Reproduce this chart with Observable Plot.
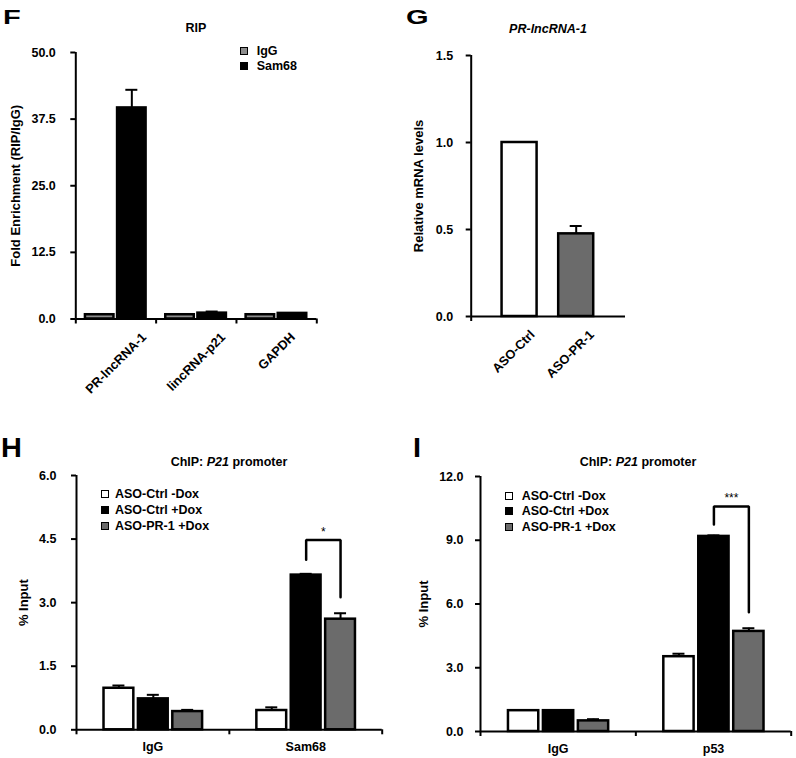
<!DOCTYPE html>
<html><head><meta charset="utf-8">
<script src="https://cdn.jsdelivr.net/npm/d3@7"></script>
<script src="https://cdn.jsdelivr.net/npm/@observablehq/plot@0.6"></script>
<style>
body{margin:0;background:#fff;}
#fig{position:relative;width:796px;height:758px;background:#fff;font-family:'Liberation Sans',Arial,Helvetica,sans-serif;font-weight:bold;color:#000;overflow:hidden}
.plot{position:absolute}
.letter{position:absolute;font-weight:bold;line-height:1;transform-origin:0 0;white-space:nowrap}
.title{position:absolute;transform:translate(-50%,-50%);font-size:12.5px;white-space:nowrap;line-height:1}
.row{position:absolute;display:flex;align-items:center;height:16px;font-size:12.5px;white-space:nowrap}
.sw{display:inline-block;width:8px;height:8px;border:1.5px solid #000;box-sizing:border-box}
</style></head><body><div id="fig"></div><script>
// ---------- data ----------
// F: RIP
const fGroups = ["PR-lncRNA-1", "lincRNA-p21", "GAPDH"];
const fSeries = ["IgG", "Sam68"];
const fIgG = [0.8, 0.8, 0.8];
const fSam68 = [39.6, 1.1, 1.05];
const fIgGErr = [0, 0, 0];
const fSam68Err = [3.4, 0.3, 0.05];
const fYTicks = [0, 12.5, 25, 37.5, 50];

// G: PR-lncRNA-1 levels
const gCats = ["ASO-Ctrl", "ASO-PR-1"];
const gValues = [1.0, 0.475];
const gErr = [0, 0.045];
const gYTicks = [0, 0.5, 1.0, 1.5];

// H: ChIP Sam68
const hGroups = ["IgG", "Sam68"];
const hSeries = ["ASO-Ctrl -Dox", "ASO-Ctrl +Dox", "ASO-PR-1 +Dox"];
const hCtrlNoDox = [0.98, 0.455];
const hCtrlDox = [0.73, 3.65];
const hPR1Dox = [0.43, 2.61];
const hCtrlNoDoxErr = [0.065, 0.075];
const hCtrlDoxErr = [0.095, 0.03];
const hPR1DoxErr = [0.04, 0.14];
const hYTicks = [0, 1.5, 3.0, 4.5, 6.0];
const hSig = {group: 1, from: 1, to: 2, top: 4.48, left: 4.01, right: 3.13, label: "*"};

// I: ChIP p53
const iGroups = ["IgG", "p53"];
const iSeries = ["ASO-Ctrl -Dox", "ASO-Ctrl +Dox", "ASO-PR-1 +Dox"];
const iCtrlNoDox = [0.98, 3.52];
const iCtrlDox = [0.98, 9.18];
const iPR1Dox = [0.50, 4.71];
const iCtrlNoDoxErr = [0, 0.14];
const iCtrlDoxErr = [0, 0.05];
const iPR1DoxErr = [0.08, 0.15];
const iYTicks = [0, 3.0, 6.0, 9.0, 12.0];
const iSig = {group: 1, from: 1, to: 2, top: 10.59, left: 9.74, right: 5.61, label: "***"};

// ---------- styling ----------
const FONT = "'Liberation Sans', Arial, Helvetica, sans-serif";
const WHITE = "#ffffff", BLACK = "#000000", GRAY = "#6b6b6b", LIGHTGRAY = "#8c8c8c";
const ROT_FS = 12.8;
const fig = document.getElementById("fig");

const ctx = document.createElement("canvas").getContext("2d");
ctx.font = `bold ${ROT_FS}px ${FONT}`;
const textW = s => ctx.measureText(s).width;

function panel(cfg) {
  const {groups, series, values, errors, fills, layout, yDomain, yTicks, yLabel, labelOffset,
         width, height, margin, nUnits, tickPadding, sig} = cfg;
  const pxPerUnit = (width - margin.left - margin.right) / nUnits;
  const capHalf = 6 / pxPerUnit;
  const rows = [];
  groups.forEach((g, i) => series.forEach((s, j) =>
    rows.push({group: g, series: s, i, j, value: values[j][i], err: errors[j][i]})));
  const x1 = d => d.i + layout.pad + d.j * (layout.bw + layout.gap);
  const x2 = d => x1(d) + layout.bw;
  const xc = d => x1(d) + layout.bw / 2;
  const marks = [];
  const withErr = rows.filter(d => d.err > 0);
  marks.push(Plot.ruleX(withErr, {x: xc, y1: "value", y2: d => d.value + d.err, stroke: BLACK, strokeWidth: 2}));
  marks.push(Plot.ruleY(withErr, {y: d => d.value + d.err, x1: d => xc(d) - capHalf, x2: d => xc(d) + capHalf, stroke: BLACK, strokeWidth: 2}));
  series.forEach((s, j) => marks.push(Plot.rectY(rows.filter(d => d.j === j),
    {x1, x2, y: "value", fill: fills[j], stroke: BLACK, strokeWidth: 2.5})));
  // axes
  marks.push(Plot.ruleY([yDomain[0]], {stroke: BLACK, strokeWidth: 2}));
  marks.push(Plot.ruleX([0], {y1: yDomain[0], y2: yDomain[1], stroke: BLACK, strokeWidth: 2}));
  marks.push(Plot.axisY({ticks: yTicks, tickFormat: d3.format(".1f"), tickSize: 5, tickPadding,
    strokeWidth: 2, label: null}));
  marks.push(Plot.text([yLabel], {frameAnchor: "left", rotate: -90, textAnchor: "middle", lineAnchor: "top",
    dx: -labelOffset, fontSize: 13, text: d => d}));
  marks.push(Plot.axisX({ticks: cfg.xTicks, tickSize: 5, tickFormat: () => "", strokeWidth: 2, label: null}));
  // category labels
  if (cfg.labelMode === "rotated") {
    cfg.labels.forEach((lab) => {
      marks.push(Plot.text([lab], {x: lab.x, y: () => yDomain[0], text: () => lab.text,
        rotate: -45, textAnchor: "end", lineAnchor: "middle", fontSize: ROT_FS,
        dx: textW(lab.text) / (2 * Math.SQRT2) + cfg.labelShift, dy: cfg.labelDy}));
    });
  } else {
    marks.push(Plot.text(groups, {x: (d, i) => i + 0.5, y: () => yDomain[0], text: d => d, dy: 17}));
  }
  // significance bracket
  if (sig) {
    const r = j => rows.find(d => d.i === sig.group && d.j === j);
    const xa = xc(r(sig.from)), xb = xc(r(sig.to));
    const pts = [{x: xa, y: sig.left}, {x: xa, y: sig.top}, {x: xb, y: sig.top}, {x: xb, y: sig.right}];
    marks.push(Plot.line(pts, {x: "x", y: "y", stroke: BLACK, strokeWidth: 2.5, strokeLinejoin: "miter"}));
    marks.push(Plot.text([sig], {x: () => (xa + xb) / 2, y: "top", text: "label", dy: -8, fontSize: 12, fontWeight: "normal"}));
  }
  const svg = Plot.plot({
    width, height,
    marginLeft: margin.left, marginRight: margin.right, marginTop: margin.top, marginBottom: margin.bottom,
    x: {domain: [0, nUnits]},
    y: {domain: yDomain},
    style: {fontFamily: FONT, fontSize: "12.5px", fontWeight: "bold", color: BLACK, background: "transparent", overflow: "visible"},
    marks
  });
  svg.classList.add("plot");
  svg.style.left = cfg.left + "px";
  svg.style.top = cfg.top + "px";
  fig.appendChild(svg);
}

// F
const fLayout = {pad: 0.12, bw: 0.355, gap: 0.045};
panel({
  left: 0, top: 0, width: 400, height: 380,
  margin: {left: 75.3, right: 83.7, top: 52, bottom: 61.5},
  groups: fGroups, series: fSeries, values: [fIgG, fSam68], errors: [fIgGErr, fSam68Err],
  fills: [LIGHTGRAY, BLACK], layout: fLayout, nUnits: fGroups.length,
  yDomain: [0, 50], yTicks: fYTicks, yLabel: "Fold Enrichment (RIP/IgG)", labelOffset: 64.8, tickPadding: 15,
  xTicks: d3.range(fGroups.length + 1),
  labelMode: "rotated", labelShift: 0, labelDy: 16,
  labels: fGroups.map((t, i) => ({text: t, x: () => i + 0.5}))
});

// G
const gLayout = {pad: 0.2, bw: 0.227, gap: 0.14};
panel({
  left: 400, top: 0, width: 396, height: 380,
  margin: {left: 70.7, right: 171, top: 55, bottom: 64},
  groups: [""], series: gCats, values: gValues.map(v => [v]), errors: gErr.map(v => [v]),
  fills: [WHITE, GRAY], layout: gLayout, nUnits: 1,
  yDomain: [0, 1.5], yTicks: gYTicks, yLabel: "Relative mRNA levels", labelOffset: 57.5, tickPadding: 13,
  xTicks: [0],
  labelMode: "rotated", labelShift: -6, labelDy: 16,
  labels: gCats.map((t, j) => ({text: t, x: () => gLayout.pad + j * (gLayout.bw + gLayout.gap) + gLayout.bw / 2}))
});

// H
const hiLayout = {pad: 0.18, bw: 0.195, gap: 0.03};
panel({
  left: 0, top: 400, width: 400, height: 358,
  margin: {left: 76, right: 18.3, top: 75, bottom: 28.7},
  groups: hGroups, series: hSeries, values: [hCtrlNoDox, hCtrlDox, hPR1Dox],
  errors: [hCtrlNoDoxErr, hCtrlDoxErr, hPR1DoxErr],
  fills: [WHITE, BLACK, GRAY], layout: hiLayout, nUnits: hGroups.length,
  yDomain: [0, 6], yTicks: hYTicks, yLabel: "% Input", labelOffset: 58, tickPadding: 15,
  xTicks: d3.range(hGroups.length + 1), labelMode: "flat", sig: hSig
});

// I
panel({
  left: 400, top: 400, width: 396, height: 358,
  margin: {left: 80, right: 5.3, top: 76, bottom: 27},
  groups: iGroups, series: iSeries, values: [iCtrlNoDox, iCtrlDox, iPR1Dox],
  errors: [iCtrlNoDoxErr, iCtrlDoxErr, iPR1DoxErr],
  fills: [WHITE, BLACK, GRAY], layout: hiLayout, nUnits: iGroups.length,
  yDomain: [0, 12], yTicks: iYTicks, yLabel: "% Input", labelOffset: 62, tickPadding: 12,
  xTicks: d3.range(iGroups.length + 1), labelMode: "flat", sig: iSig
});

// ---------- HTML text: letters, titles, legends ----------
function letter(t, x, y, size, sx) {
  const el = document.createElement("div");
  el.className = "letter"; el.textContent = t;
  el.style.left = x + "px"; el.style.top = y + "px"; el.style.fontSize = size + "px";
  el.style.transform = `scaleX(${sx})`;
  fig.appendChild(el);
}
function title(html, x, y) {
  const el = document.createElement("div");
  el.className = "title"; el.innerHTML = html;
  el.style.left = x + "px"; el.style.top = y + "px";
  fig.appendChild(el);
}
function legend(items, fills, sqLeft, textLeft, yFirst, step) {
  items.forEach((t, k) => {
    const row = document.createElement("div");
    row.className = "row";
    row.style.left = sqLeft + "px"; row.style.top = (yFirst + k * step - 8) + "px";
    const sw = document.createElement("span");
    sw.className = "sw"; sw.style.background = fills[k];
    sw.style.marginRight = (textLeft - sqLeft - 8) + "px";
    row.appendChild(sw);
    row.appendChild(document.createTextNode(t));
    fig.appendChild(row);
  });
}
letter("F", 3, 7.4, 20, 1.45);
letter("G", 405.5, 7, 20, 1.45);
letter("H", 1.3, 434.7, 27, 1.07);
letter("I", 413.3, 434.7, 27, 1.07);
title("RIP", 196, 28);
title("<i>PR-lncRNA-1</i>", 548, 29);
title("ChIP: <i>P21</i> promoter", 229, 461.7);
title("ChIP: <i>P21</i> promoter", 638, 462);
legend(fSeries, [LIGHTGRAY, BLACK], 240, 256.7, 50.5, 15.8);
legend(hSeries, [WHITE, BLACK, GRAY], 100.5, 115, 493.5, 16.2);
legend(iSeries, [WHITE, BLACK, GRAY], 505, 521.7, 495.8, 15.6);
</script></body></html>
